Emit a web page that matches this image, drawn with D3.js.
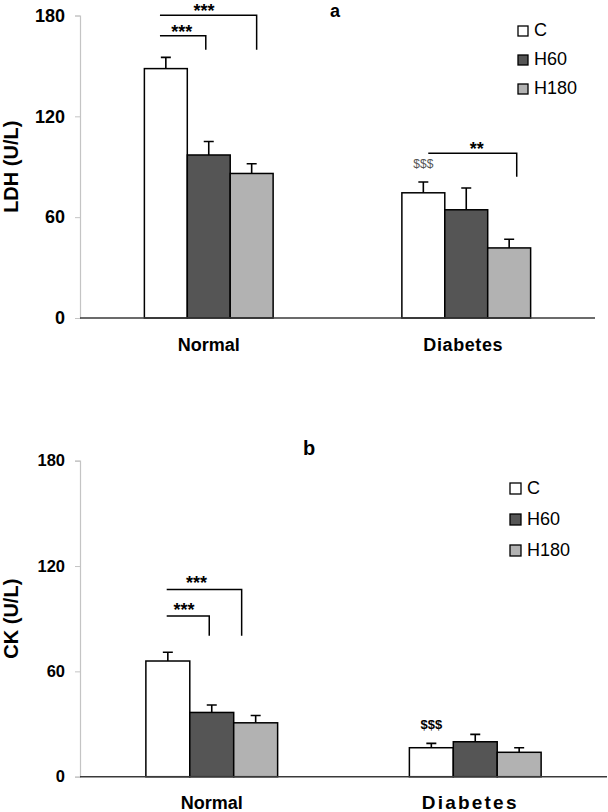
<!DOCTYPE html>
<html>
<head>
<meta charset="utf-8">
<script src="https://cdn.jsdelivr.net/npm/d3@7"></script>
<style>
  html, body { margin: 0; padding: 0; background: #fff; }
  svg { display: block; font-family: Arial, "Liberation Sans", Helvetica, sans-serif; }
</style>
</head>
<body>
<svg id="chart" width="608" height="812"></svg>
<script>
// ---------- data ----------
const categories = ["Normal", "Diabetes"];
const series = ["C", "H60", "H180"];
const seriesColors = ["#ffffff", "#555555", "#b2b2b2"];
const yTicks = [0, 60, 120, 180];

// panel a: LDH (U/L)
const ldhMeans  = [[148.4, 97.0, 86.0], [74.5, 64.4, 41.7]];
const ldhErrors = [[6.7, 8.0, 5.8], [6.4, 13.0, 5.2]];

// panel b: CK (U/L)
const ckMeans  = [[65.9, 36.6, 30.7], [16.5, 19.9, 13.9]];
const ckErrors = [[5.0, 4.2, 4.2], [2.5, 4.2, 2.6]];

// significance brackets: group, x ends (fraction of group band), line level, drop level (axis units)
const ldhBrackets = [
  { group: 0, x0: 0.121, x1: 0.872, level: 180.2, drop: 159.6, label: "***", lx: 0.463 },
  { group: 0, x0: 0.121, x1: 0.477, level: 168.0, drop: 159.6, label: "***", lx: 0.290 },
  { group: 1, x0: 0.205, x1: 0.892, level: 98.0,  drop: 84.0,  label: "**",  lx: 0.582 }
];
const ckBrackets = [
  { group: 0, x0: 0.158, x1: 0.727, level: 106.7, drop: 80.3, label: "***", lx: 0.385 },
  { group: 0, x0: 0.158, x1: 0.481, level: 91.5,  drop: 80.3, label: "***", lx: 0.290 }
];
// "$$$" marks (group, series)
const ldhMarks = [{ group: 1, s: 0, label: "$$$" }];
const ckMarks  = [{ group: 1, s: 0, label: "$$$" }];

// ---------- drawing ----------
const svg = d3.select("#chart");

function drawPanel(p) {
  const g = svg.append("g");
  const y = d3.scaleLinear().domain([0, 180]).range([p.y0, p.y1]);
  const x0 = d3.scaleBand().domain(categories).range([p.xL, p.xR])
    .paddingInner(0.5).paddingOuter(0.25);
  const x1 = d3.scaleBand().domain(series).range([0, x0.bandwidth()]);

  // y axis (light grey)
  const yAxis = g.append("g").attr("transform", `translate(${p.xL},0)`)
    .call(d3.axisLeft(y).tickValues(yTicks).tickSize(5).tickPadding(10).tickFormat(d3.format("d")));
  yAxis.select(".domain").attr("stroke", "#c4c4c4").attr("stroke-width", 1.2);
  yAxis.selectAll(".tick line").attr("stroke", "#c4c4c4");
  yAxis.selectAll(".tick text").attr("fill", "#000").style("font-size", p.tickFont + "px")
    .style("font-weight", "bold").style("font-family", "Arial, 'Liberation Sans', sans-serif");

  // y title
  g.append("text")
    .attr("transform", `translate(${p.titleX},${(p.y0 + p.y1) / 2}) rotate(-90)`)
    .attr("text-anchor", "middle")
    .style("font-size", "20px").style("font-weight", "bold")
    .text(p.yTitle);

  // bars
  const rows = categories.map((c, i) => ({ cat: c, vals: series.map((s, j) => ({ s, j, v: p.means[i][j], e: p.errors[i][j] })) }));
  const grp = g.selectAll(".grp").data(rows).join("g")
    .attr("transform", d => `translate(${x0(d.cat)},0)`);

  // error bars (upper only), drawn under bars
  grp.selectAll(".err").data(d => d.vals).join("path")
    .attr("d", d => {
      const cx = x1(d.s) + x1.bandwidth() / 2;
      return `M${cx},${y(d.v)}V${y(d.v + d.e)}M${cx - 5},${y(d.v + d.e)}H${cx + 5}`;
    })
    .attr("stroke", "#000").attr("stroke-width", 1.6).attr("fill", "none");

  grp.selectAll("rect").data(d => d.vals).join("rect")
    .attr("x", d => x1(d.s))
    .attr("y", d => y(d.v))
    .attr("width", x1.bandwidth())
    .attr("height", d => y(0) - y(d.v))
    .attr("fill", d => seriesColors[d.j])
    .attr("stroke", "#000").attr("stroke-width", 1.5);

  // x axis line
  g.append("line").attr("x1", p.xL).attr("x2", p.xR).attr("y1", y(0)).attr("y2", y(0))
    .attr("stroke", "#3a3a3a").attr("stroke-width", 1.6);

  // category labels
  g.selectAll(".cat").data(categories).join("text")
    .attr("x", d => x0(d) + x0.bandwidth() / 2 + (d === "Diabetes" ? p.diabDx : 0))
    .attr("y", p.catY)
    .attr("text-anchor", "middle")
    .style("font-size", d => (d === "Diabetes" ? p.diabFont : 18) + "px").style("font-weight", "bold")
    .style("letter-spacing", d => d === "Diabetes" ? p.diabSpacing + "px" : "0px")
    .text(d => d);

  // brackets
  p.brackets.forEach(b => {
    const bx = x0(categories[b.group]);
    const bw = x0.bandwidth();
    g.append("path")
      .attr("d", `M${bx + b.x0 * bw},${y(b.level)}H${bx + b.x1 * bw}V${y(b.drop)}`)
      .attr("stroke", "#000").attr("stroke-width", 1.5).attr("fill", "none");
    g.append("text")
      .attr("x", bx + b.lx * bw).attr("y", y(b.level) + p.starDy)
      .attr("text-anchor", "middle")
      .style("font-size", "18px").style("font-weight", "bold")
      .text(b.label);
  });

  // $$$ marks
  p.marks.forEach(m => {
    const d = rows[m.group].vals[m.s];
    g.append("text")
      .attr("x", x0(categories[m.group]) + x1(series[m.s]) + x1.bandwidth() / 2)
      .attr("y", y(d.v + d.e) - 14)
      .attr("text-anchor", "middle")
      .style("font-size", p.markFont + "px").style("font-weight", p.markWeight)
      .attr("fill", p.markColor)
      .text(m.label);
  });

  // panel letter
  g.append("text").attr("x", p.letterX).attr("y", p.letterY)
    .attr("text-anchor", "middle")
    .style("font-size", p.letterFont + "px").style("font-weight", "bold")
    .text(p.letter);

  // legend
  const leg = g.append("g");
  series.forEach((s, j) => {
    const ly = p.legY + j * p.legStep;
    leg.append("rect").attr("x", p.legX).attr("y", ly)
      .attr("width", p.legSize).attr("height", p.legSize)
      .attr("fill", seriesColors[j]).attr("stroke", "#000").attr("stroke-width", 1.3);
    leg.append("text").attr("x", p.legX + p.legSize + 6).attr("y", ly + p.legSize)
      .style("font-size", "18px")
      .text(s);
  });
}

drawPanel({
  y0: 318, y1: 15.5, xL: 80, xR: 595,
  means: ldhMeans, errors: ldhErrors, brackets: ldhBrackets, marks: ldhMarks,
  yTitle: "LDH (U/L)", titleX: 18, tickFont: 18, catY: 351, starDy: 2,
  diabFont: 18, diabSpacing: 0.6, diabDx: -3,
  markFont: 12, markWeight: "normal", markColor: "#555",
  letter: "a", letterX: 335, letterY: 17, letterFont: 18,
  legX: 518, legY: 26, legStep: 29, legSize: 10
});

drawPanel({
  y0: 776.7, y1: 460.7, xL: 80, xR: 607,
  means: ckMeans, errors: ckErrors, brackets: ckBrackets, marks: ckMarks,
  yTitle: "CK (U/L)", titleX: 18, tickFont: 16.5, catY: 809, starDy: 0,
  diabFont: 19, diabSpacing: 2.2, diabDx: -5,
  markFont: 13, markWeight: "bold", markColor: "#000",
  letter: "b", letterX: 309, letterY: 455, letterFont: 20,
  legX: 510, legY: 483, legStep: 31, legSize: 11
});
</script>
</body>
</html>
